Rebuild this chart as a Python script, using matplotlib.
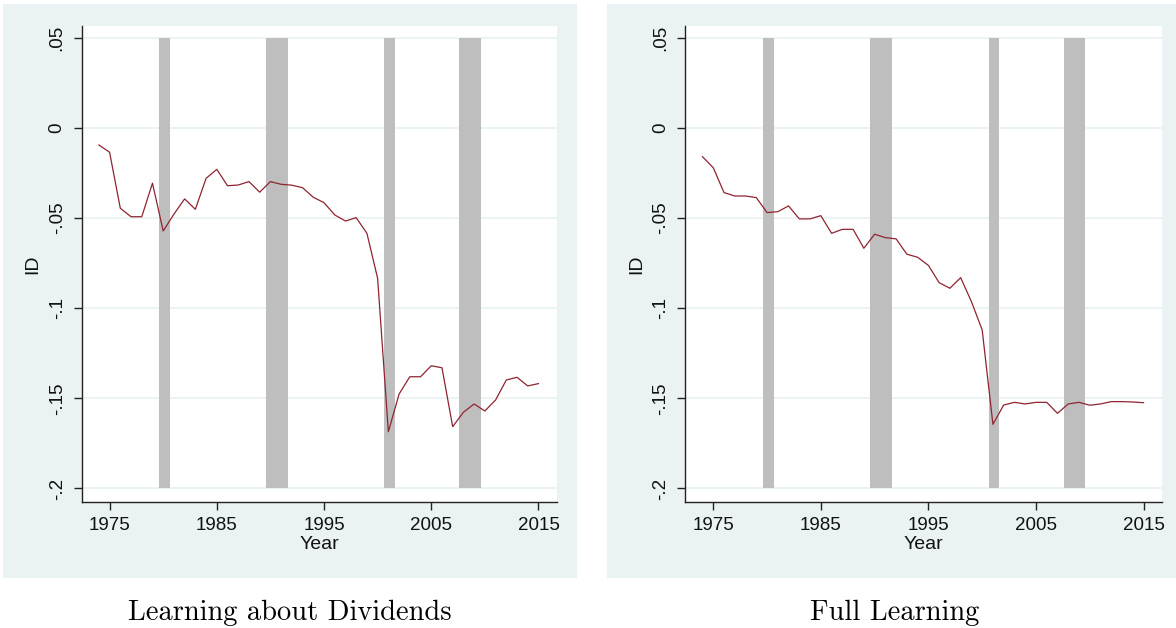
import matplotlib
matplotlib.use("Agg")
import matplotlib.pyplot as plt
from matplotlib.patches import Rectangle

# ---- data ----
years = list(range(1974, 2016))
id_dividends = [-0.0094, -0.0134, -0.0445, -0.0492, -0.0492, -0.0306, -0.0571, -0.0478,
                -0.0393, -0.0451, -0.0279, -0.0229, -0.0320, -0.0316, -0.0297, -0.0356,
                -0.0297, -0.0312, -0.0317, -0.0331, -0.0384, -0.0414, -0.0482, -0.0516,
                -0.0497, -0.0584, -0.0834, -0.1685, -0.1476, -0.1380, -0.1380, -0.1319,
                -0.1330, -0.1657, -0.1577, -0.1531, -0.1570, -0.1509, -0.1398, -0.1383,
                -0.1431, -0.1418]
id_full = [-0.0159, -0.0220, -0.0358, -0.0377, -0.0377, -0.0386, -0.0469, -0.0464,
           -0.0432, -0.0504, -0.0504, -0.0486, -0.0584, -0.0562, -0.0562, -0.0667,
           -0.0589, -0.0608, -0.0615, -0.0700, -0.0717, -0.0762, -0.0858, -0.0889,
           -0.0830, -0.0963, -0.1120, -0.1644, -0.1537, -0.1522, -0.1531, -0.1522,
           -0.1522, -0.1583, -0.1531, -0.1522, -0.1538, -0.1531, -0.1518, -0.1518,
           -0.1520, -0.1524]
recession_start = [1979.6, 1989.6, 2000.6, 2007.6]
recession_end = [1980.6, 1991.6, 2001.6, 2009.6]
y_ticks = [-0.2, -0.15, -0.1, -0.05, 0.0, 0.05]
y_tick_labels = ["-.2", "-.15", "-.1", "-.05", "0", ".05"]
x_ticks = [1975, 1985, 1995, 2005, 2015]
captions = ["Learning about Dividends", "Full Learning"]

W, H = 1176, 628
BG = "#eaf2f3"
LINE = "#8f2430"
BAR = "#bebebe"
TXT = "#111111"

fig = plt.figure(figsize=(W / 100, H / 100), dpi=100)
fig.patch.set_facecolor("white")

def fx(px):
    return px / W

def fy(py):
    return 1 - py / H

# panel backgrounds
for x0, x1 in [(3, 577), (607, 1176)]:
    fig.patches.append(Rectangle((fx(x0), fy(578)), fx(x1 - x0), (578 - 4) / H,
                                 transform=fig.transFigure, facecolor=BG,
                                 edgecolor="none", zorder=-5))

axes_px = [(81.7, 556.7), (685.3, 1161.8)]
series = [id_dividends, id_full]
caption_x = [290, 895]
font = "Liberation Sans"

for (ax0, ax1), vals, cap, cx in zip(axes_px, series, captions, caption_x):
    ax = fig.add_axes([fx(ax0), fy(502), fx(ax1 - ax0), (502 - 25.7) / H])
    ax.set_zorder(5)
    ax.set_facecolor("white")
    ax.set_xlim(1972.4, 2016.7)
    ax.set_ylim(-0.2075, 0.0568)
    for yt in y_ticks:
        ax.axhline(yt, color=BG, lw=1.3, zorder=0)
    for s, e in zip(recession_start, recession_end):
        ax.fill_betweenx([y_ticks[0], y_ticks[-1]], s, e, color=BAR, lw=0, zorder=1)
    ax.plot(years, vals, color=LINE, lw=0.9, zorder=3)
    for side in ["top", "right"]:
        ax.spines[side].set_visible(False)
    for side in ["left", "bottom"]:
        ax.spines[side].set_color("#222222")
        ax.spines[side].set_linewidth(1.0)
    ax.set_yticks(y_ticks)
    ax.set_yticklabels(y_tick_labels, rotation=90, va="center", fontfamily=font,
                       fontsize=13.5, color=TXT)
    ax.set_xticks(x_ticks)
    ax.set_xticklabels([str(t) for t in x_ticks], fontfamily=font, fontsize=13.5, color=TXT)
    ax.tick_params(axis="both", direction="out", length=5.5, width=1.0, color="#222222")
    ax.tick_params(axis="y", pad=6)
    ax.tick_params(axis="x", pad=5)
    ax.set_xlabel("Year", fontfamily=font, fontsize=14, color=TXT, labelpad=1.5)
    ax.set_ylabel("ID", fontfamily=font, fontsize=14, color=TXT)
    ax.yaxis.set_label_coords(-40.0 / (ax1 - ax0), 0.5)
    fig.text(fx(cx), fy(620.5), cap, ha="center", va="baseline",
             fontfamily="cmr10", fontsize=20.5, color="black")

fig.savefig("out.png", dpi=100, facecolor="white")
